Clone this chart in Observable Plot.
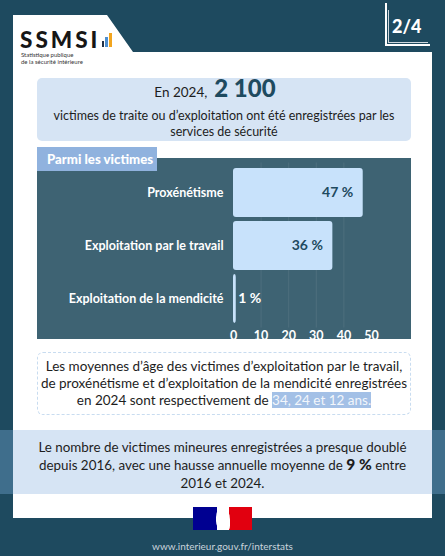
<!DOCTYPE html>
<html><head><meta charset="utf-8">
<script src="https://cdn.jsdelivr.net/npm/d3@7"></script>
<script src="https://cdn.jsdelivr.net/npm/@observablehq/plot@0.6"></script>
<style>
html,body{margin:0;padding:0;}
body{width:445px;height:556px;background:#1e4a5f;position:relative;overflow:hidden;font-family:Lato,"Open Sans",sans-serif;}
.abs{position:absolute;}
#card{left:0;top:0;width:445px;height:556px;background:#fff;clip-path:polygon(13px 15px,107px 15px,133px 52px,432px 52px,432px 518px,13px 518px);}
#box1{left:37px;top:78px;width:374px;height:63px;background:#d6e4f4;border-radius:5px;text-align:center;color:#1d1d1d;font-size:12.5px;}
#panel{left:37px;top:158px;width:374px;height:181px;background:#3e6373;}
#tab{left:37px;top:147px;width:120px;height:24px;background:#90b2de;color:#fff;font-weight:900;font-size:13.2px;line-height:24px;padding-left:10px;box-sizing:border-box;white-space:nowrap;}
#chart{left:37px;top:158px;}
#box2{left:37px;top:352px;width:374px;height:63px;border:1.5px dashed #c8dcf0;border-radius:6px;box-sizing:border-box;text-align:center;font-size:13.5px;line-height:17px;color:#1d1d1d;padding-top:5px;white-space:nowrap;}
.hl{background:#a3c0e6;color:#f2f6fb;}
#bandout{left:0;top:430px;width:445px;height:64px;background:#3f6e8c;}
#bandin{left:13px;top:430px;width:419px;height:64px;background:#d6e4f4;text-align:center;font-size:13.4px;line-height:18px;color:#1d1d1d;padding-top:8px;box-sizing:border-box;white-space:nowrap;}
#footer{left:0;top:540px;width:445px;text-align:center;color:#c9d4dc;font-size:10px;}
</style></head>
<body>
<div id="card" class="abs"></div>
<!-- logo -->
<div class="abs" style="left:20px;top:30.5px;font-size:22.5px;line-height:18px;font-weight:900;color:#161616;letter-spacing:3px;">SSMSI</div>
<div class="abs" style="left:102px;top:41px;width:2px;height:6px;background:#22324a;"></div>
<div class="abs" style="left:105px;top:37px;width:3px;height:10px;background:#4d8fd1;"></div>
<div class="abs" style="left:109px;top:33px;width:3px;height:14px;background:#f2a51f;"></div>
<div class="abs" style="left:21px;top:52px;font-size:6px;line-height:6.5px;color:#333;">Statistique publique<br>de la sécurité intérieure</div>
<!-- badge -->
<div class="abs" style="left:385px;top:3px;width:1.5px;height:42px;background:#fff;"></div>
<div class="abs" style="left:388px;top:10px;width:1px;height:33px;background:#cfd8de;"></div>
<div class="abs" style="left:385px;top:44px;width:45px;height:1.5px;background:#fff;"></div>
<div class="abs" style="left:388px;top:42px;width:40px;height:1px;background:#cfd8de;"></div>
<div class="abs" style="left:392px;top:15px;font-size:18px;font-weight:900;color:#fff;">2/4</div>

<div id="box1" class="abs">
  <div style="position:absolute;top:2px;width:100%;line-height:24px;font-size:13.5px;box-sizing:border-box;padding-right:18px;">En 2024,&nbsp; <span style="font-size:24px;font-weight:900;color:#1e4a5f;line-height:0;">2 100</span></div>
  <div style="position:absolute;top:30px;width:100%;line-height:16px;">victimes de traite ou d’exploitation ont été enregistrées par les<br>services de sécurité</div>
</div>

<div id="panel" class="abs"></div>
<div id="chart" class="abs"></div>
<div id="tab" class="abs">Parmi les victimes</div>

<div id="box2" class="abs">Les moyennes d’âge des victimes d’exploitation par le travail,<br>de proxénétisme et d’exploitation de la mendicité enregistrées<br>en 2024 sont respectivement de <span class="hl">34, 24 et 12 ans.</span></div>

<div id="bandout" class="abs"></div>
<div id="bandin" class="abs">Le nombre de victimes mineures enregistrées a presque doublé<br>depuis 2016, avec une hausse annuelle moyenne de <b style="font-size:15.5px;font-weight:900;line-height:0;">9 %</b> entre<br>2016 et 2024.</div>

<!-- flag -->
<div class="abs" style="left:193px;top:507px;width:24px;height:23px;background:#000091;"></div>
<div class="abs" style="left:217px;top:507px;width:12px;height:23px;background:#fff;"></div>
<div class="abs" style="left:229px;top:507px;width:23px;height:23px;background:#e1000f;"></div>
<div class="abs" style="left:216px;top:507px;width:14px;height:23px;background:#fff;border-radius:45% 55% 20% 40%;"></div>

<div id="footer" class="abs">www.interieur.gouv.fr/interstats</div>

<script>
const categories = ["Proxénétisme", "Exploitation par le travail", "Exploitation de la mendicité"];
const values = [47, 36, 1];
const xTicks = [0, 10, 20, 30, 40, 50];
const gridTicks = [10, 20, 30, 40];

const data = categories.map((c, i) => ({category: c, value: values[i]}));

const chart = Plot.plot({
  width: 374,
  height: 192,
  marginLeft: 196,
  marginRight: 40,
  marginTop: 4.5,
  marginBottom: 22.5,
  style: {background: "transparent", color: "#fff", fontFamily: "Lato, sans-serif", overflow: "visible"},
  x: {domain: [0, 50], ticks: xTicks, label: null},
  y: {domain: categories, padding: 0.084, label: null},
  marks: [
    Plot.ruleX(gridTicks, {stroke: "#ffffff", strokeOpacity: 0.08}),
    Plot.barX(data, {y: "category", x: "value", fill: "#c8e2fb", rx: 3}),
    Plot.text(data.filter(d => d.value >= 10), {y: "category", x: "value", text: d => d.value + " %", dx: -10, textAnchor: "end", fill: "#1e4a5f", fontWeight: "bold", fontSize: 14}),
    Plot.text(data.filter(d => d.value < 10), {y: "category", x: "value", text: d => d.value + " %", dx: 2, textAnchor: "start", fill: "#fff", fontWeight: "bold", fontSize: 14}),
    Plot.axisY({tickSize: 0, tickPadding: 10, fontSize: 12.5, fontWeight: "bold", fill: "#fff", label: null}),
    Plot.axisX({ticks: xTicks, tickSize: 0, tickPadding: 3, fontSize: 12.5, fontWeight: "bold", fill: "#fff", label: null})
  ]
});
document.getElementById("chart").appendChild(chart);
</script>
</body></html>
